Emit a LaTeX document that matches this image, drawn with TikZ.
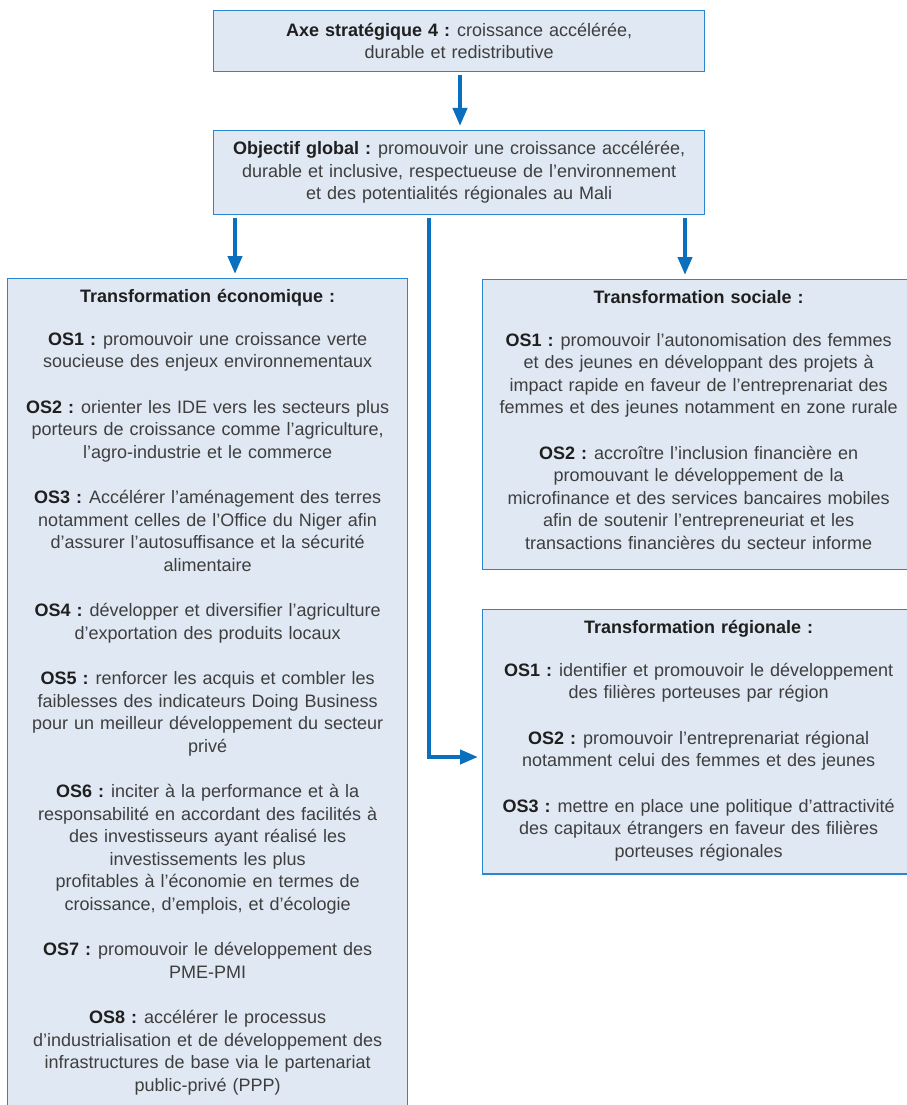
\documentclass[tikz,border=0pt]{standalone}
\usepackage{fontspec}
\setmainfont{Liberation Sans}
\usepackage{xcolor}
\usetikzlibrary{positioning, arrows.meta}
\definecolor{boxblue}{HTML}{2C86CF}
\definecolor{boxfill}{HTML}{E0E8F3}
\definecolor{flowblue}{HTML}{0A70BE}
\definecolor{ink}{HTML}{3E3E3E}
\definecolor{darkink}{HTML}{1F1F1F}
\newcommand{\osl}[1]{\textbf{\color{darkink}#1 :}\hspace{-2pt}}
\newcommand{\boxhead}[1]{\textbf{\color{darkink}#1}}

\tikzset{
  panel/.style={draw=boxblue, line width=1.3pt, fill=boxfill, anchor=north west,
    align=center, text=ink, font=\fontsize{18}{22.5}\selectfont,
    inner xsep=6pt, inner ysep=11pt},
  flow/.style={draw=flowblue, line width=4pt, -{Triangle[length=18pt, width=14pt]},
    shorten <=3pt, shorten >=4pt}
}

\begin{document}
\begin{tikzpicture}[x=1pt, y=-1pt]
  \useasboundingbox (0,0) rectangle (907,1105);
  \clip (0,0) rectangle (907,1105);

  % top boxes
  \node[panel, minimum width=491pt, minimum height=61pt, text width=479pt, inner ysep=4pt] (axe) at (213,10)
    {\osl{Axe stratégique 4} croissance accélérée,\\durable et redistributive};
  \node[panel, minimum width=491pt, minimum height=84pt, text width=479pt, inner ysep=4pt] (objectif) at (213,130)
    {\osl{Objectif global} promouvoir une croissance accélérée,\\
     durable et inclusive, respectueuse de l’environnement\\
     et des potentialités régionales au Mali};

  % left column
  \node[panel, minimum width=400pt, text width=388pt] (eco) at (7,278)
    {\boxhead{Transformation économique :}\\[20pt]
     \osl{OS1} promouvoir une croissance verte\\soucieuse des enjeux environnementaux\\[23pt]
     \osl{OS2} orienter les IDE vers les secteurs plus\\porteurs de croissance comme l’agriculture,\\l’agro-industrie et le commerce\\[23pt]
     \osl{OS3} Accélérer l’aménagement des terres\\notamment celles de l’Office du Niger afin\\d’assurer l’autosuffisance et la sécurité\\alimentaire\\[23pt]
     \osl{OS4} développer et diversifier l’agriculture\\d’exportation des produits locaux\\[23pt]
     \osl{OS5} renforcer les acquis et combler les\\faiblesses des indicateurs Doing Business\\pour un meilleur développement du secteur\\privé\\[23pt]
     \osl{OS6} inciter à la performance et à la\\responsabilité en accordant des facilités à\\des investisseurs ayant réalisé les\\investissements les plus\\profitables à l’économie en termes de\\croissance, d’emplois, et d’écologie\\[23pt]
     \osl{OS7} promouvoir le développement des\\PME-PMI\\[23pt]
     \osl{OS8} accélérer le processus\\d’industrialisation et de développement des\\infrastructures de base via le partenariat\\public-privé (PPP)\\[20pt]\mbox{}};

  % right column
  \node[panel, minimum width=432pt, text width=420pt] (sociale) at (482,279)
    {\boxhead{Transformation sociale :}\\[20pt]
     \osl{OS1} promouvoir l’autonomisation des femmes\\et des jeunes en développant des projets à\\impact rapide en faveur de l’entreprenariat des\\femmes et des jeunes notamment en zone rurale\\[23pt]
     \osl{OS2} accroître l’inclusion financière en\\promouvant le développement de la\\microfinance et des services bancaires mobiles\\afin de soutenir l’entrepreneuriat et les\\transactions financières du secteur informe\\[-13pt]\mbox{}};
  \node[panel, minimum width=432pt, text width=420pt] (regionale) at (482,609)
    {\boxhead{Transformation régionale :}\\[20pt]
     \osl{OS1} identifier et promouvoir le développement\\des filières porteuses par région\\[23pt]
     \osl{OS2} promouvoir l’entreprenariat régional\\notamment celui des femmes et des jeunes\\[23pt]
     \osl{OS3} mettre en place une politique d’attractivité\\des capitaux étrangers en faveur des filières\\porteuses régionales\\[-17pt]\mbox{}};

  % arrows
  \coordinate (dropL) at (235,0);
  \coordinate (dropR) at (685,0);
  \coordinate (elbow) at (429,757);
  \draw[flow] (axe.south -| 460,0) -- (objectif.north -| 460,0);
  \draw[flow] (objectif.south -| dropL) -- (eco.north -| dropL);
  \draw[flow] (objectif.south -| dropR) -- (sociale.north -| dropR);
  \draw[flow] (objectif.south -| elbow) |- (elbow -| regionale.west);
\end{tikzpicture}
\end{document}
